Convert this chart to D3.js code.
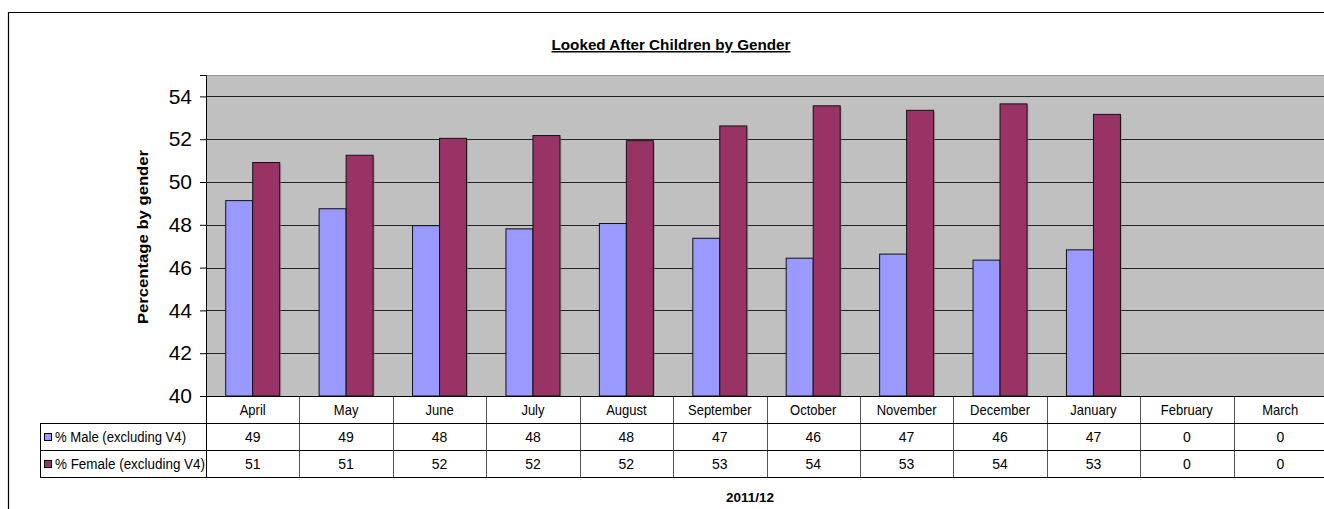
<!DOCTYPE html>
<html>
<head>
<meta charset="utf-8">
<script src="https://cdn.jsdelivr.net/npm/d3@7"></script>
<style>
  body { margin: 0; background: #fff; }
  svg { display: block; font-family: 'Liberation Sans', Arial, sans-serif; }
</style>
</head>
<body>
<div id="chart-1"></div>
<script>
// Data
const months = ['April', 'May', 'June', 'July', 'August', 'September', 'October', 'November', 'December', 'January', 'February', 'March']
const maleValues = [49.13, 48.75, 47.96, 47.81, 48.06, 47.37, 46.44, 46.63, 46.35, 46.83, 0, 0]
const femaleValues = [50.91, 51.25, 52.04, 52.17, 51.93, 52.62, 53.56, 53.35, 53.65, 53.16, 0, 0]
const seriesNames = ['% Male (excluding V4)', '% Female (excluding V4)']
const seriesColors = ['#9999FF', '#993366']
const yTicks = [40, 42, 44, 46, 48, 50, 52, 54]

const margin = { top: 75, left: 206, right: -3, bottom: 113 }
const width = 1324 - margin.left - margin.right
const height = 509 - margin.top - margin.bottom

const root = d3
  .select('#chart-1')
  .append('svg')
  .attr('width', 1324)
  .attr('height', 509)

// outer frame of the chart object
root.append('path')
  .attr('d', 'M8.5,509 L8.5,12.5 L1324,12.5')
  .attr('fill', 'none')
  .attr('stroke', '#000')
  .attr('stroke-width', 1.2)

// title
root.append('text')
  .attr('x', 671)
  .attr('y', 50)
  .attr('text-anchor', 'middle')
  .attr('font-size', 15)
  .attr('font-weight', 'bold')
  .attr('text-decoration', 'underline')
  .attr('textLength', 239)
  .attr('lengthAdjust', 'spacingAndGlyphs')
  .text('Looked After Children by Gender')

const svg = root.append('g')
  .attr('transform', 'translate(' + margin.left + ',' + margin.top + ')')

// scales
const xPositionScale = d3.scaleBand()
  .domain(months)
  .range([0, width])

const seriesScale = d3.scaleBand()
  .domain([0, 1])
  .range([0, xPositionScale.bandwidth()])
  .paddingInner(0)
  .paddingOuter(0.73)

const yPositionScale = d3.scaleLinear()
  .domain([40, 55])
  .range([height, 0])

// plot area
svg.append('rect')
  .attr('x', 0)
  .attr('y', 0)
  .attr('width', width)
  .attr('height', height)
  .attr('fill', '#C0C0C0')

svg.append('line')
  .attr('x1', 0).attr('x2', width)
  .attr('y1', 0.5).attr('y2', 0.5)
  .attr('stroke', '#999')

// gridlines
svg.selectAll('.grid')
  .data(yTicks.filter(d => d > 40))
  .enter()
  .append('line')
  .attr('class', 'grid')
  .attr('x1', 0)
  .attr('x2', width)
  .attr('y1', d => Math.round(yPositionScale(d)) + 0.5)
  .attr('y2', d => Math.round(yPositionScale(d)) + 0.5)
  .attr('stroke', '#222')

// bars
const series = [maleValues, femaleValues]
series.forEach(function(values, i) {
  const data = months.map((m, j) => ({ month: m, value: values[j] })).filter(d => d.value > 40)

  // faint shadow
  svg.selectAll('.shadow-' + i)
    .data(data)
    .enter()
    .append('rect')
    .attr('class', 'shadow-' + i)
    .attr('x', d => xPositionScale(d.month) + seriesScale(i) + 1.5)
    .attr('y', d => yPositionScale(d.value) + 1.5)
    .attr('width', seriesScale.bandwidth())
    .attr('height', d => height - yPositionScale(d.value) - 1.5)
    .attr('fill', '#888')
    .attr('opacity', 0.6)

  svg.selectAll('.bar-' + i)
    .data(data)
    .enter()
    .append('rect')
    .attr('class', 'bar-' + i)
    .attr('x', d => xPositionScale(d.month) + seriesScale(i))
    .attr('y', d => yPositionScale(d.value))
    .attr('width', seriesScale.bandwidth())
    .attr('height', d => height - yPositionScale(d.value))
    .attr('fill', seriesColors[i])
    .attr('stroke', '#111')
    .attr('stroke-width', 1)
})

// y axis
const yAxis = d3.axisLeft(yPositionScale)
  .tickValues(yTicks)
  .tickSize(6)
  .tickPadding(8)
const yAxisG = svg.append('g')
  .attr('class', 'axis y-axis')
  .call(yAxis)
yAxisG.select('.domain').attr('stroke', '#000').attr('d', 'M-6,0.5 L0.5,0.5 L0.5,' + height)
yAxisG.selectAll('text')
  .attr('font-size', 21)
  .attr('font-family', "'Liberation Sans', Arial, sans-serif")
  .attr('fill', '#000')

root.append('text')
  .attr('transform', 'translate(148,237) rotate(-90)')
  .attr('text-anchor', 'middle')
  .attr('font-size', 14)
  .attr('font-weight', 'bold')
  .attr('textLength', 174)
  .attr('lengthAdjust', 'spacingAndGlyphs')
  .text('Percentage by gender')

// data table
const rowH = 27
const tableTop = height
const tableLeft = 40 - margin.left
const table = svg.append('g').attr('class', 'data-table')

// header row with month names
table.selectAll('.month-label')
  .data(months)
  .enter()
  .append('text')
  .attr('class', 'month-label')
  .attr('x', d => xPositionScale(d) + xPositionScale.bandwidth() / 2)
  .attr('y', tableTop + 19)
  .attr('text-anchor', 'middle')
  .attr('font-size', 14)
  .attr('transform', d => {
    const cx = xPositionScale(d) + xPositionScale.bandwidth() / 2
    return 'translate(' + cx + ',0) scale(0.93,1) translate(' + (-cx) + ',0)'
  })
  .text(d => d)

series.forEach(function(values, i) {
  const rowY = tableTop + rowH * (i + 1)
  table.selectAll('.val-' + i)
    .data(months)
    .enter()
    .append('text')
    .attr('class', 'val-' + i)
    .attr('x', d => xPositionScale(d) + xPositionScale.bandwidth() / 2)
    .attr('y', rowY + 19)
    .attr('text-anchor', 'middle')
    .attr('font-size', 14)
    .text((d, j) => Math.round(values[j]))

  table.append('rect')
    .attr('x', tableLeft + 4.5)
    .attr('y', rowY + 10.5)
    .attr('width', 7)
    .attr('height', 7)
    .attr('fill', seriesColors[i])
    .attr('stroke', '#000')

  table.append('text')
    .attr('x', tableLeft + 15)
    .attr('y', rowY + 19)
    .attr('font-size', 14)
    .attr('textLength', i === 0 ? 131 : 150)
    .attr('lengthAdjust', 'spacingAndGlyphs')
    .text(seriesNames[i])
})

// table lines
table.selectAll('.vline')
  .data(months.slice(1))
  .enter()
  .append('line')
  .attr('class', 'vline')
  .attr('x1', d => Math.round(xPositionScale(d)) + 0.5)
  .attr('x2', d => Math.round(xPositionScale(d)) + 0.5)
  .attr('y1', tableTop)
  .attr('y2', tableTop + rowH * 3)
  .attr('stroke', '#555')

table.append('line')
  .attr('x1', 0.5).attr('x2', 0.5)
  .attr('y1', tableTop).attr('y2', tableTop + rowH * 3)
  .attr('stroke', '#000')

table.append('line')
  .attr('x1', tableLeft + 0.5).attr('x2', tableLeft + 0.5)
  .attr('y1', tableTop + rowH).attr('y2', tableTop + rowH * 3)
  .attr('stroke', '#000')

;[0, 1, 2, 3].forEach(function(r) {
  table.append('line')
    .attr('x1', r === 0 ? -6 : tableLeft)
    .attr('x2', width)
    .attr('y1', tableTop + rowH * r + 0.5)
    .attr('y2', tableTop + rowH * r + 0.5)
    .attr('stroke', '#000')
})

// category axis title
root.append('text')
  .attr('x', 750)
  .attr('y', 502)
  .attr('text-anchor', 'middle')
  .attr('font-size', 13.5)
  .attr('font-weight', 'bold')
  .text('2011/12')
</script>
</body>
</html>
